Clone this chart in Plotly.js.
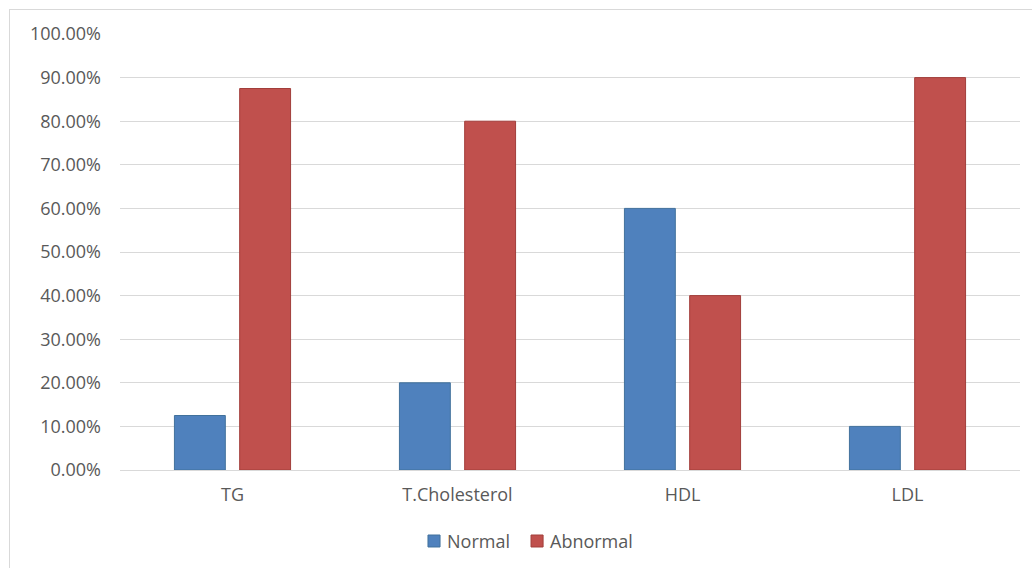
<!DOCTYPE html>
<html>
<head>
<meta charset="utf-8">
<script src="https://cdn.plot.ly/plotly-3.0.1.min.js"></script>
<style>
  html, body { margin: 0; padding: 0; background: #fff; }
  #frame { position: absolute; left: 9px; top: 9px; width: 1030px; height: 566px; border: 1px solid #d9d9d9; box-sizing: border-box; }
  #chart { position: absolute; left: 0; top: 0; width: 1032px; height: 568px; }
</style>
</head>
<body>
<div id="frame"></div>
<div id="chart"></div>
<script>
// Lipid profile: share of normal vs abnormal results per test
const categories = ['TG', 'T.Cholesterol', 'HDL', 'LDL'];
const seriesNames = ['Normal', 'Abnormal'];
const normalValues = [0.125, 0.20, 0.60, 0.10];
const abnormalValues = [0.875, 0.80, 0.40, 0.90];

const fontFamily = 'Open Sans, Liberation Sans, sans-serif';
const textColor = '#595959';
const fills = ['#4F81BD', '#C0504D'];
const edges = ['#41719C', '#A23E3B'];

const traces = [normalValues, abnormalValues].map((vals, i) => ({
  type: 'bar', name: seriesNames[i], x: categories, y: vals,
  marker: { color: fills[i], line: { color: edges[i], width: 1 } },
  hoverinfo: 'x+y+name'
}));

// Legend drawn below the plot: a small square swatch followed by the series name
const swatchLeft = [0.3422, 0.4567];
const swatchSize = 0.0134;
const shapes = seriesNames.map((n, i) => ({
  type: 'rect', xref: 'paper', yref: 'paper',
  x0: swatchLeft[i], x1: swatchLeft[i] + swatchSize,
  y0: -0.1766, y1: -0.1491,
  fillcolor: fills[i], line: { color: edges[i], width: 1 }
}));
const annotations = seriesNames.map((n, i) => ({
  xref: 'paper', yref: 'paper', x: swatchLeft[i] + swatchSize + 0.006, y: -0.1628,
  xanchor: 'left', yanchor: 'middle', showarrow: false, text: n,
  font: { family: fontFamily, size: 18, color: textColor }
}));

const layout = {
  width: 1032, height: 568,
  margin: { l: 120, r: 12, t: 34, b: 98 },
  paper_bgcolor: 'rgba(0,0,0,0)',
  plot_bgcolor: 'rgba(0,0,0,0)',
  font: { family: fontFamily, size: 18, color: textColor },
  barmode: 'group',
  bargap: 0.42,
  bargroupgap: 0.22,
  showlegend: false,
  shapes: shapes,
  annotations: annotations,
  xaxis: {
    type: 'category', automargin: false,
    showgrid: false, zeroline: false,
    showline: true, linecolor: '#d9d9d9', linewidth: 1,
    ticks: '', ticklabelstandoff: 8,
    tickfont: { family: fontFamily, size: 18, color: textColor }
  },
  yaxis: {
    range: [0, 1], dtick: 0.1, tick0: 0, tickformat: '.2%', automargin: false,
    showgrid: true, gridcolor: '#d9d9d9', gridwidth: 1,
    zeroline: false, showline: false,
    ticks: '', ticklabelstandoff: 18,
    tickfont: { family: fontFamily, size: 18, color: textColor }
  }
};

Plotly.newPlot('chart', traces, layout, { displayModeBar: false, staticPlot: true });
</script>
</body>
</html>
